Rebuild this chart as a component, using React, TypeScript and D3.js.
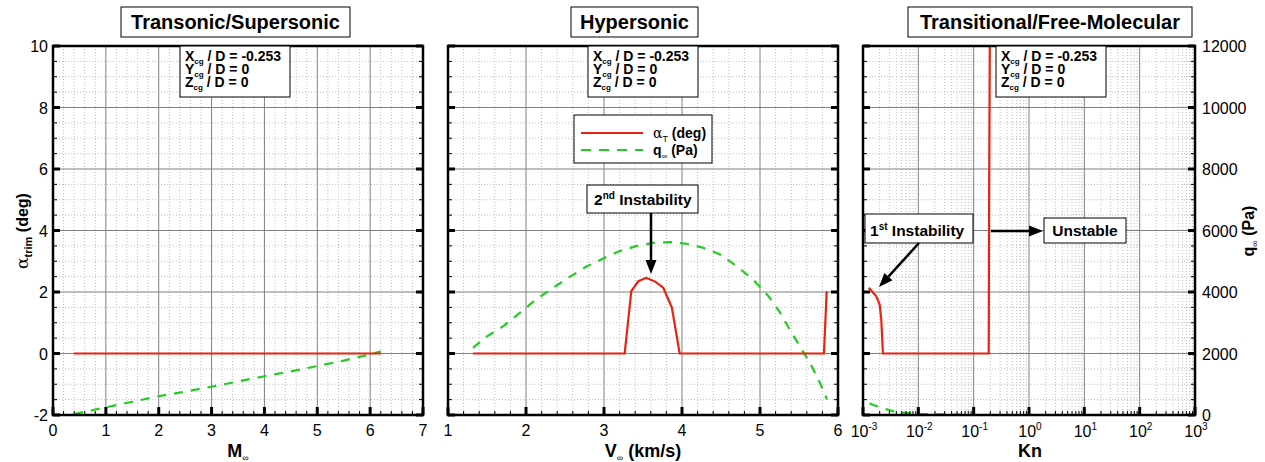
import React from 'react';
import * as d3 from 'd3';

// ---- data ----
// Transonic / Supersonic (x = Mach)
const machAlpha: [number, number][] = [[0.4, 0], [6.2, 0]];
const machQ: [number, number][] = [
  [0.4, 30], [0.7, 140], [1, 250], [1.5, 430], [2, 610], [2.5, 760], [3, 920],
  [3.5, 1090], [4, 1260], [4.5, 1420], [5, 1590], [5.5, 1770], [6, 1970], [6.2, 2070],
];
// Hypersonic (x = V, km/s)
const velAlpha: [number, number][] = [
  [1.32, 0], [3.265, 0], [3.35, 2.03], [3.44, 2.35], [3.54, 2.46], [3.57, 2.43],
  [3.66, 2.33], [3.76, 2.14], [3.87, 1.49], [3.97, 0], [5.82, 0], [5.855, 2.03],
];
const velQ: [number, number][] = [
  [1.32, 2180], [1.49, 2540], [1.71, 2890], [1.92, 3320], [2.13, 3760], [2.35, 4140],
  [2.56, 4490], [2.77, 4820], [2.99, 5090], [3.2, 5330], [3.41, 5490], [3.63, 5600],
  [3.85, 5620], [4.06, 5570], [4.27, 5440], [4.49, 5220], [4.7, 4840], [4.91, 4410],
  [5.11, 3860], [5.26, 3320], [5.38, 2780], [5.51, 2240], [5.64, 1700], [5.75, 1150],
  [5.86, 500],
];
// Transitional / free-molecular (x = Kn)
const knAlpha: [number, number][] = [
  [0.00127, 2.14], [0.00174, 1.86], [0.002, 1.59], [0.00214, 1.1], [0.00229, 0],
  [0.187, 0], [0.19, 5], [0.2, 14],
];
const knQ: [number, number][] = [
  [0.00132, 380], [0.00145, 340], [0.0019, 270], [0.003, 160], [0.004, 90],
  [0.006, 70], [0.0079, 50], [0.013, 30], [0.03, 20], [0.065, 10],
];

const alphaTicks = [-2, 0, 2, 4, 6, 8, 10];
const qTicks = [0, 2000, 4000, 6000, 8000, 10000, 12000];
const machTicks = [0, 1, 2, 3, 4, 5, 6, 7];
const velTicks = [1, 2, 3, 4, 5, 6];
const knExps = [-3, -2, -1, 0, 1, 2, 3];

const FONT = 'Liberation Sans, Arial, sans-serif';
const RED = '#e8230f';
const GREEN = '#22cc22';

const yScale = d3.scaleLinear().domain([-2, 10]).range([415, 46]);
const qScale = d3.scaleLinear().domain([0, 12000]).range([415, 46]);

type Scale = (v: number) => number;

const Arrow = ({ x1, y1, x2, y2 }: { x1: number; y1: number; x2: number; y2: number }) => {
  const len = Math.hypot(x2 - x1, y2 - y1);
  const ux = (x2 - x1) / len, uy = (y2 - y1) / len;
  const hl = 14, hw = 5.5;
  const bx = x2 - ux * hl, by = y2 - uy * hl;
  const pts = `${x2},${y2} ${bx - uy * hw},${by + ux * hw} ${bx + uy * hw},${by - ux * hw}`;
  return (
    <g>
      <line x1={x1} y1={y1} x2={bx} y2={by} stroke="#000" strokeWidth={2.5} />
      <polygon points={pts} fill="#000" />
    </g>
  );
};

const InfoBox = ({ x }: { x: number }) => {
  const lines = [['X', ' / D = -0.253'], ['Y', ' / D = 0'], ['Z', ' / D = 0']];
  return (
    <g>
      <rect x={x} y={46} width={110} height={51} fill="#fff" stroke="#000" strokeWidth={1} />
      {lines.map((l, i) => (
        <text key={i} x={x + 5} y={61 + i * 13} fontFamily={FONT} fontWeight="bold" fontSize={14}>
          {l[0]}
          <tspan fontSize={8} dy={3}>cg</tspan>
          <tspan dy={-3}>{l[1]}</tspan>
        </text>
      ))}
    </g>
  );
};

const Panel = ({
  id, x, xMajor, xMinor, xLabels, leftLabels, rightLabels, series,
}: {
  id: string;
  x: Scale;
  xMajor: number[];
  xMinor: number[];
  xLabels: React.ReactNode;
  leftLabels: boolean;
  rightLabels: boolean;
  series: { data: [number, number][]; color: string; dash?: string; q?: boolean }[];
}) => {
  const x0 = x(xMajor[0]);
  const x1 = x(xMajor[xMajor.length - 1]);
  const yMinor = d3.range(-2, 10.01, 0.5).filter((v) => v % 2 !== 0);
  return (
    <g>
      <defs>
        <clipPath id={id}>
          <rect x={x0} y={46} width={x1 - x0} height={369} />
        </clipPath>
      </defs>
      {/* minor grid */}
      {xMinor.map((v) => (
        <line key={'xm' + v} x1={x(v)} x2={x(v)} y1={46} y2={415} stroke="#bdbdbd" strokeWidth={1} strokeDasharray="1,2" />
      ))}
      {yMinor.map((v) => (
        <line key={'ym' + v} x1={x0} x2={x1} y1={yScale(v)} y2={yScale(v)} stroke="#bdbdbd" strokeWidth={1} strokeDasharray="1,2" />
      ))}
      {/* major grid */}
      {xMajor.map((v) => (
        <line key={'xM' + v} x1={x(v)} x2={x(v)} y1={46} y2={415} stroke="#808080" strokeWidth={1} />
      ))}
      {alphaTicks.map((v) => (
        <line key={'yM' + v} x1={x0} x2={x1} y1={yScale(v)} y2={yScale(v)} stroke="#808080" strokeWidth={1} />
      ))}
      {/* series */}
      <g clipPath={`url(#${id})`}>
        {series.map((s, i) => {
          const line = d3
            .line<[number, number]>()
            .x((d) => x(d[0]))
            .y((d) => (s.q ? qScale(d[1]) : yScale(d[1])));
          return (
            <path key={i} d={line(s.data) || ''} fill="none" stroke={s.color} strokeWidth={2.2} strokeDasharray={s.dash} />
          );
        })}
      </g>
      {/* frame */}
      <rect x={x0} y={46} width={x1 - x0} height={369} fill="none" stroke="#000" strokeWidth={2.5} />
      {/* ticks */}
      {alphaTicks.map((v) => (
        <g key={'yt' + v}>
          <line x1={x0} x2={x0 + 7} y1={yScale(v)} y2={yScale(v)} stroke="#000" strokeWidth={3} />
          <line x1={x1 - 7} x2={x1} y1={yScale(v)} y2={yScale(v)} stroke="#000" strokeWidth={3} />
        </g>
      ))}
      {yMinor.map((v) => (
        <g key={'ytm' + v}>
          <line x1={x0} x2={x0 + 4} y1={yScale(v)} y2={yScale(v)} stroke="#000" strokeWidth={1} />
          <line x1={x1 - 4} x2={x1} y1={yScale(v)} y2={yScale(v)} stroke="#000" strokeWidth={1} />
        </g>
      ))}
      {xMajor.map((v) => (
        <line key={'xt' + v} x1={x(v)} x2={x(v)} y1={415} y2={407} stroke="#000" strokeWidth={3} />
      ))}
      {xMinor.map((v) => (
        <line key={'xtm' + v} x1={x(v)} x2={x(v)} y1={415} y2={411} stroke="#000" strokeWidth={1} />
      ))}
      {xLabels}
      {leftLabels &&
        alphaTicks.map((v) => (
          <text key={'yl' + v} x={x0 - 5} y={yScale(v) + 6} textAnchor="end" fontFamily={FONT} fontSize={16}>
            {v}
          </text>
        ))}
      {rightLabels &&
        qTicks.map((v) => (
          <text key={'ql' + v} x={x1 + 7} y={qScale(v) + 6} textAnchor="start" fontFamily={FONT} fontSize={16}>
            {v}
          </text>
        ))}
    </g>
  );
};

const TitleBox = ({ x, w, label }: { x: number; w: number; label: string }) => (
  <g>
    <rect x={x} y={7} width={w} height={30} fill="#fff" stroke="#000" strokeWidth={1} />
    <text x={x + w / 2} y={29} textAnchor="middle" fontFamily={FONT} fontWeight="bold" fontSize={20}>
      {label}
    </text>
  </g>
);

const TextBox = ({ x, y, w, h, children }: { x: number; y: number; w: number; h: number; children: React.ReactNode }) => (
  <g>
    <rect x={x} y={y} width={w} height={h} fill="#fff" stroke="#000" strokeWidth={1} />
    {children}
  </g>
);

export default function App() {
  const xMach = d3.scaleLinear().domain([0, 7]).range([53, 423]);
  const xVel = d3.scaleLinear().domain([1, 6]).range([448, 838]);
  const xKn = d3.scaleLog().domain([1e-3, 1e3]).range([863, 1195]);

  const machMinor = d3.range(0, 7.001, 0.2).filter((v) => Math.abs(v - Math.round(v)) > 0.01);
  const velMinor = d3.range(1, 6.001, 0.2).filter((v) => Math.abs(v - Math.round(v)) > 0.01);
  const knMajor = knExps.map((e) => Math.pow(10, e));
  const knMinor: number[] = [];
  knExps.slice(0, -1).forEach((e) => d3.range(2, 10).forEach((k) => knMinor.push(k * Math.pow(10, e))));

  const linLabels = (sc: Scale, ticks: number[]) =>
    ticks.map((v) => (
      <text key={'xl' + v} x={sc(v)} y={436} textAnchor="middle" fontFamily={FONT} fontSize={16}>
        {v}
      </text>
    ));
  const knLabels = knExps.map((e) => (
    <text key={'kl' + e} x={xKn(Math.pow(10, e)) + 1} y={437} textAnchor="middle" fontFamily={FONT} fontSize={16}>
      10
      <tspan fontSize={10} dy={-7}>{e}</tspan>
    </text>
  ));

  return (
    <svg width={1265} height={462} style={{ position: 'absolute', left: 0, top: 0, background: '#fff' }}>
      <rect width={1265} height={462} fill="#fff" />
      <Panel
        id="c1"
        x={xMach}
        xMajor={machTicks}
        xMinor={machMinor}
        xLabels={linLabels(xMach, machTicks)}
        leftLabels
        rightLabels={false}
        series={[
          { data: machQ, color: GREEN, dash: '9,8', q: true },
          { data: machAlpha, color: RED },
        ]}
      />
      <Panel
        id="c2"
        x={xVel}
        xMajor={velTicks}
        xMinor={velMinor}
        xLabels={linLabels(xVel, velTicks)}
        leftLabels={false}
        rightLabels={false}
        series={[
          { data: velQ, color: GREEN, dash: '9,8', q: true },
          { data: velAlpha, color: RED },
        ]}
      />
      <Panel
        id="c3"
        x={xKn}
        xMajor={knMajor}
        xMinor={knMinor}
        xLabels={knLabels}
        leftLabels={false}
        rightLabels
        series={[
          { data: knQ, color: GREEN, dash: '9,8', q: true },
          { data: knAlpha, color: RED },
        ]}
      />

      <TitleBox x={121} w={229} label="Transonic/Supersonic" />
      <TitleBox x={571} w={127} label="Hypersonic" />
      <TitleBox x={908} w={284} label="Transitional/Free-Molecular" />

      <InfoBox x={180} />
      <InfoBox x={588} />
      <InfoBox x={996} />

      {/* legend */}
      <rect x={574} y={115} width={138} height={48} fill="#fff" stroke="#000" strokeWidth={1} />
      <line x1={581} x2={643} y1={133} y2={133} stroke={RED} strokeWidth={2.2} />
      <line x1={581} x2={643} y1={150} y2={150} stroke={GREEN} strokeWidth={2.2} strokeDasharray="10,8" />
      <text x={653} y={138} fontFamily={FONT} fontSize={14} fontWeight="bold">
        <tspan fontFamily="DejaVu Serif, serif" fontWeight="normal" fontSize={14}>α</tspan>
        <tspan fontSize={9} fontWeight="normal" dy={4}>T</tspan>
        <tspan dy={-4}> (deg)</tspan>
      </text>
      <text x={653} y={155} fontFamily={FONT} fontSize={14} fontWeight="bold">
        q<tspan fontSize={8} fontWeight="normal" dy={4}>∞</tspan>
        <tspan dy={-4}> (Pa)</tspan>
      </text>

      {/* annotations */}
      <TextBox x={587} y={185} w={111} h={28}>
        <text x={594} y={205} fontFamily={FONT} fontSize={15.5} fontWeight="bold">
          2<tspan fontSize={10} dy={-6}>nd</tspan>
          <tspan dy={6}> Instability</tspan>
        </text>
      </TextBox>
      <Arrow x1={651} y1={213} x2={651} y2={274} />

      <TextBox x={865} y={214} w={108} h={29}>
        <text x={870} y={236} fontFamily={FONT} fontSize={15.5} fontWeight="bold">
          1<tspan fontSize={10} dy={-6}>st</tspan>
          <tspan dy={6}> Instability</tspan>
        </text>
      </TextBox>
      <Arrow x1={919} y1={243} x2={879} y2={287} />

      <TextBox x={1044} y={218} w={82} h={25}>
        <text x={1085} y={236} textAnchor="middle" fontFamily={FONT} fontSize={15.5} fontWeight="bold">
          Unstable
        </text>
      </TextBox>
      <Arrow x1={991} y1={231} x2={1043} y2={231} />

      {/* axis titles */}
      <text x={238} y={457} textAnchor="middle" fontFamily={FONT} fontSize={18} fontWeight="bold">
        M<tspan fontSize={9} fontWeight="normal" dy={4}>∞</tspan>
      </text>
      <text x={643} y={457} textAnchor="middle" fontFamily={FONT} fontSize={18} fontWeight="bold">
        V<tspan fontSize={9} fontWeight="normal" dy={4}>∞</tspan>
        <tspan dy={-4}> (km/s)</tspan>
      </text>
      <text x={1030} y={457} textAnchor="middle" fontFamily={FONT} fontSize={18} fontWeight="bold">
        Kn
      </text>
      <text transform="translate(28,231) rotate(-90)" textAnchor="middle" fontFamily={FONT} fontSize={16} fontWeight="bold">
        <tspan fontFamily="DejaVu Serif, serif" fontWeight="normal" fontSize={17}>α</tspan>
        <tspan fontSize={11} dy={4}>trim</tspan>
        <tspan dy={-4}> (deg)</tspan>
      </text>
      <text transform="translate(1254,231) rotate(-90)" textAnchor="middle" fontFamily={FONT} fontSize={16} fontWeight="bold">
        q<tspan fontSize={9} fontWeight="normal" dy={4}>∞</tspan>
        <tspan dy={-4}> (Pa)</tspan>
      </text>
    </svg>
  );
}
